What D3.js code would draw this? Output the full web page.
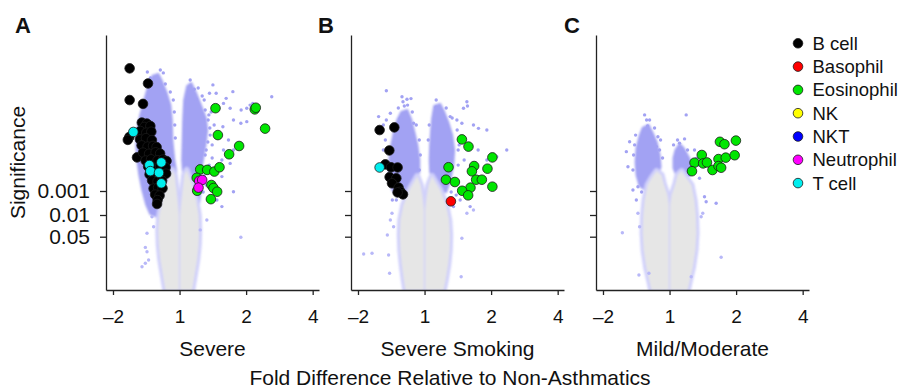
<!DOCTYPE html>
<html><head><meta charset="utf-8">
<script src="https://cdn.jsdelivr.net/npm/d3@7"></script>
<style>
body{margin:0;background:#fff;}
text{font-family:"Liberation Sans",Arial,Helvetica,sans-serif;fill:#111;}
</style>
</head><body>
<svg id="c" width="899" height="388"></svg>
<script>
// ---------- categories / labels ----------
const panelLetters = ["A","B","C"];
const panelTitles = ["Severe","Severe Smoking","Mild/Moderate"];
const foldTicks = [-2,1,2,4];            // fold difference tick labels
const pTicks = [0.001,0.01,0.05];        // significance tick labels
const cellTypes = ["B cell","Basophil","Eosinophil","NK","NKT","Neutrophil","T cell"];
const cellColors = ["#000000","#ff0000","#00e600","#ffff00","#0000ff","#ff00ff","#00eeee"];

// ---------- marker data: [log2 fold difference, -log10 p] ----------
const A_bcell = [[-0.75,8.11],[-0.474,7.48],[-0.75,6.79],[-0.549,6.63],[-0.567,5.85],[-0.492,5.81],[-0.529,5.67],[-0.439,5.71],[-0.754,5.25],[-0.777,5.13],[-0.639,4.40],
 [-0.589,5.50],[-0.499,5.43],[-0.424,5.47],[-0.595,5.15],[-0.505,5.20],[-0.415,5.12],
 [-0.570,4.90],[-0.480,4.85],[-0.398,4.88],[-0.345,4.83],[-0.548,4.60],[-0.458,4.55],[-0.360,4.61],[-0.292,4.56],
 [-0.510,4.27],[-0.428,4.32],[-0.330,4.28],[-0.248,4.31],[-0.196,4.25],[-0.472,4.02],[-0.382,3.97],[-0.292,4.03],[-0.210,3.98],
 [-0.450,3.69],[-0.368,3.73],[-0.270,3.68],[-0.202,3.72],[-0.412,3.44],[-0.330,3.40],[-0.262,3.43],
 [-0.390,3.10],[-0.322,3.14],[-0.256,3.11],[-0.367,2.85],[-0.300,2.81],[-0.330,2.62],[-0.338,2.46]];
const A_tcell = [[-0.694,5.46],[-0.454,4.08],[-0.274,4.19],[-0.439,3.83],[-0.309,3.76],[-0.274,3.32]];
const A_neutrophil = [[0.295,3.42],[0.340,3.46],[0.285,3.14]];
const A_eosinophil = [[0.540,6.45],[1.130,6.40],[1.145,6.47],[1.285,5.60],[0.576,5.33],[0.895,4.875],[0.745,4.53],[0.310,3.90],[0.415,3.88],[0.523,3.81],[0.600,3.99],[0.258,3.55],[0.265,3.01],[0.478,3.25],[0.510,3.125],[0.565,2.97],[0.471,2.66]];

const B_bcell = [[-0.675,5.54],[-0.454,5.65],[-0.529,4.69],[-0.589,4.11],[-0.504,3.99],[-0.405,3.98],[-0.525,3.58],[-0.424,3.53],[-0.489,3.32],[-0.390,3.14],[-0.364,2.97],[-0.324,2.86],[-0.405,2.94]];
const B_tcell = [[-0.675,3.98]];
const B_basophil = [[0.396,2.57]];
const B_eosinophil = [[0.561,5.15],[0.660,4.85],[1.019,4.40],[0.360,3.99],[0.745,4.04],[0.945,3.93],[0.711,3.82],[0.321,3.47],[0.456,3.375],[0.775,3.47],[0.861,3.47],[1.019,3.18],[0.690,3.14],[0.565,3.01],[0.655,2.82]];

const C_eosinophil = [[0.757,5.05],[0.825,4.95],[0.997,5.10],[0.484,4.5],[0.375,4.18],[0.505,4.15],[0.562,4.19],[0.735,4.33],[0.844,4.39],[0.978,4.49],[0.337,3.825],[0.645,3.875],[0.735,4.04],[0.775,3.97]];

// ---------- background gene cloud (outlines of dense regions + scattered genes) ----------
const A_grayLeft = [[-0.109,3.875],[-0.199,3.25],[-0.259,2.625],[-0.304,2.0],[-0.319,1.517],[-0.312,1.098],[-0.289,0.732],[-0.252,0.366],[-0.214,0],[-0.010,0],[-0.010,2.0],[-0.022,2.42],[-0.045,3.04],[-0.072,3.67]];
const A_grayRight = [[0.010,0],[0.010,2.0],[0.022,2.42],[0.045,3.04],[0.070,3.67],[0.108,3.875],[0.190,3.25],[0.250,2.625],[0.288,2.0],[0.295,1.517],[0.288,1.098],[0.265,0.732],[0.228,0.366],[0.190,0]];
const A_purpleLeft = [[-0.409,7.79],[-0.319,7.875],[-0.259,7.54],[-0.199,7.125],[-0.139,6.58],[-0.117,5.96],[-0.109,5.125],[-0.079,4.29],[-0.049,3.79],[-0.109,3.25],[-0.199,2.71],[-0.244,2.21],[-0.334,1.94],[-0.439,2.04],[-0.499,2.42],[-0.559,3.04],[-0.604,3.67],[-0.634,4.29],[-0.649,4.92],[-0.634,5.54],[-0.589,6.17],[-0.529,6.79],[-0.469,7.375]];
const A_purpleRight = [[0.115,7.375],[0.175,7.5],[0.240,7.125],[0.320,6.58],[0.395,6.04],[0.415,5.54],[0.390,4.92],[0.350,4.29],[0.310,3.67],[0.315,3.04],[0.295,2.5],[0.220,2.625],[0.130,3.25],[0.055,3.67],[0.040,4.29],[0.048,5.125],[0.055,5.96],[0.070,6.79]];
const A_scatter = [[0.220,7.24],[0.501,7.42],[0.550,7.07],[0.450,7.07],[0.801,7.14],[0.700,6.86],[0.660,6.65],[0.760,6.45],[0.925,6.375],[1.010,6.45],[1.060,6.58],[1.100,6.65],[1.385,6.93],[0.810,5.96],[0.921,5.82],[1.010,5.89],[0.651,5.68],[0.735,5.125],[0.660,4.71],[0.810,4.71],[0.636,4.29],[0.760,4.15],[0.636,3.60],[0.810,2.97],[0.561,2.625],[0.636,2.35],[0.385,6.375],[0.430,5.96],[0.460,5.33],[0.400,4.71],[0.490,4.375],[0.370,3.625],[0.921,1.286],[0.340,6.96],[0.250,6.83],
 [-0.514,1.04],[-0.564,0.569],[-0.465,0.732],[-0.514,0.652],[-0.489,0.935],[-0.390,1.623],[-0.414,1.945],[-0.489,1.41],[0.41,1.84],[0.31,1.52],
 [-0.484,7.96],[-0.289,8.04],[-0.244,7.92],
 [-0.214,7.46],[-0.139,7.125],[-0.094,6.79],[-0.079,6.29],[-0.072,5.75],[-0.064,5.21],[-0.439,7.71],
 [0.370,6.79],[0.440,6.17],[0.455,5.625],[0.425,5.04],[0.385,4.5],[0.345,3.96],[0.335,3.375],[0.355,2.96],[0.160,7.625],[0.280,7.29],
 [0.475,6.29],[0.520,5.75],[0.490,4.92],[0.445,4.08],[0.400,3.25]];

const B_grayLeft = [[-0.109,3.625],[-0.229,3.04],[-0.319,2.42],[-0.364,1.839],[-0.372,1.356],[-0.364,0.976],[-0.342,0.61],[-0.312,0.244],[-0.289,0],[-0.010,0],[-0.010,2.21],[-0.027,2.71],[-0.057,3.25]];
const B_grayRight = [[0.010,0],[0.010,2.21],[0.028,2.71],[0.058,3.25],[0.111,3.625],[0.235,3.04],[0.325,2.42],[0.370,1.839],[0.385,1.356],[0.378,0.976],[0.355,0.61],[0.318,0.244],[0.288,0]];
const B_purpleLeft = [[-0.349,6.29],[-0.259,6.375],[-0.199,5.96],[-0.154,5.46],[-0.109,4.92],[-0.079,4.29],[-0.079,3.79],[-0.154,3.375],[-0.274,2.96],[-0.394,2.79],[-0.484,3.04],[-0.529,3.54],[-0.529,4.29],[-0.499,4.92],[-0.454,5.54],[-0.409,5.96]];
const B_purpleRight = [[0.145,6.54],[0.235,6.625],[0.295,6.29],[0.355,5.875],[0.415,5.33],[0.445,4.71],[0.430,4.08],[0.385,3.46],[0.325,2.96],[0.235,3.04],[0.145,3.375],[0.085,3.79],[0.078,4.29],[0.085,4.92],[0.100,5.54],[0.115,6.04]];
const B_scatter = [[-0.574,7.18],[-0.339,6.93],[-0.264,6.82],[-0.204,6.85],[-0.324,6.72],[-0.255,6.58],[-0.690,6.10],[-0.514,6.24],[-0.364,6.03],[-0.165,5.82],[-0.589,5.125],[-0.619,5.75],
 [-0.915,0.879],[-0.789,0.896],[-0.540,0.854],[-0.525,0.408],[-0.489,2.07],[-0.514,1.839],[-0.424,2.625],[-0.465,1.623],[-0.559,1.356],
 [0.175,6.49],[0.585,6.45],[0.636,6.72],[0.645,6.54],[0.385,6.10],[0.486,5.96],[0.561,5.82],[0.735,5.75],[0.810,5.61],[0.936,5.54],[1.235,4.71],[1.085,4.43],[0.936,4.29],[0.685,2.35],[0.735,2.21],[0.636,2.07],[0.561,1.262],[0.550,0.325],[0.435,2.35],[0.535,5.125],[0.505,4.71],[0.595,4.29],[0.805,4.71],[0.475,2.83],[0.535,2.625],
 [-0.394,6.46],[-0.304,6.54],[-0.184,6.29],[-0.124,5.75],[-0.079,5.125],[-0.064,4.5],[-0.079,3.875],[-0.574,5.96],[-0.619,4.71],[-0.484,2.625],
 [0.175,6.79],[0.325,6.46],[0.415,6.04],[0.490,5.54],[0.520,4.92],[0.505,4.08],[0.460,3.46],[0.400,2.96],[0.070,5.75],[0.055,5.125]];

const C_grayLeft = [[-0.195,3.83],[-0.270,3.54],[-0.330,3.25],[-0.375,2.625],[-0.397,2.0],[-0.405,1.42],[-0.390,0.976],[-0.352,0.561],[-0.307,0.244],[-0.274,0],[-0.010,0],[-0.010,2.42],[-0.030,2.83],[-0.090,3.33],[-0.120,3.67]];
const C_grayRight = [[0.010,0],[0.010,2.42],[0.030,2.83],[0.090,3.33],[0.120,3.67],[0.180,3.83],[0.255,3.54],[0.330,3.25],[0.375,2.625],[0.397,2.0],[0.405,1.42],[0.390,0.976],[0.352,0.561],[0.307,0.244],[0.274,0]];
const C_purpleLeft = [[-0.405,5.625],[-0.315,5.75],[-0.255,5.42],[-0.195,5.04],[-0.150,4.5],[-0.135,4.0],[-0.180,3.625],[-0.270,3.375],[-0.360,3.04],[-0.450,3.21],[-0.495,3.67],[-0.510,4.21],[-0.495,4.79],[-0.450,5.29]];
const C_purpleRight = [[0.090,4.71],[0.150,4.96],[0.210,4.79],[0.285,4.42],[0.345,4.04],[0.315,3.71],[0.210,3.58],[0.105,3.625],[0.060,3.96],[0.060,4.375]];
const C_scatter = [[-0.375,6.17],[-0.345,5.96],[-0.330,5.71],[-0.600,5.05],[-0.649,4.64],[-0.525,4.92],[-0.625,4.01],[-0.550,3.875],[-0.199,4.85],[-0.150,4.71],[-0.175,5.26],[-0.550,3.04],[-0.499,2.625],[-0.475,2.07],[-0.709,1.43],[-0.450,1.623],[-0.460,0.366],[-0.310,0.408],[-0.475,3.18],
 [0.250,6.17],[0.150,4.99],[0.225,5.17],[0.400,4.36],[0.300,3.67],[0.450,3.53],[0.525,2.76],[0.475,1.945],[0.700,2.49],[0.775,0.798],[0.325,0.325],[0.499,2.07],[0.550,2.555],[0.375,4.71],[0.435,4.08],
 [-0.300,5.96],[-0.225,5.625],[-0.135,5.125],[-0.105,4.375],[-0.510,5.33],[-0.540,4.5],[-0.420,2.96],
 [0.120,5.125],[0.270,4.71],[0.360,4.29],[0.375,3.79],[0.060,4.92]];

// ---------- assemble ----------
const panels = [
 {letter:panelLetters[0], title:panelTitles[0], gray:[A_grayLeft,A_grayRight], purple:[A_purpleLeft,A_purpleRight], scatter:A_scatter,
  markers:{"B cell":A_bcell,"Eosinophil":A_eosinophil,"Neutrophil":A_neutrophil,"T cell":A_tcell}},
 {letter:panelLetters[1], title:panelTitles[1], gray:[B_grayLeft,B_grayRight], purple:[B_purpleLeft,B_purpleRight], scatter:B_scatter,
  markers:{"B cell":B_bcell,"Basophil":B_basophil,"Eosinophil":B_eosinophil,"T cell":B_tcell}},
 {letter:panelLetters[2], title:panelTitles[2], gray:[C_grayLeft,C_grayRight], purple:[C_purpleLeft,C_purpleRight], scatter:C_scatter,
  markers:{"Eosinophil":C_eosinophil}}
];

const svg = d3.select("#c");
const defs = svg.append("defs");
defs.append("filter").attr("id","soft").attr("x","-20%").attr("y","-20%").attr("width","140%").attr("height","140%")
  .append("feGaussianBlur").attr("stdDeviation",0.9);
const FONT = '"Liberation Sans",Arial,Helvetica,sans-serif';
const W = 213, panelX = [106,351,596], yTop = 35, yBot = 290;
const PURPLE = "#a2a2f3", LAV = "#d0d0fb", GRAY = "#e6e6e6", AXIS = "#222";
const toLog = f => Math.sign(f)*Math.log2(Math.abs(f));
const y = d3.scaleLinear()
  .domain([0, -Math.log10(0.05), -Math.log10(0.01), 9.5])
  .range([yBot, 236.7, 215, yTop]);

panels.forEach((p,i)=>{
  const x0 = panelX[i];
  const x = d3.scaleLinear().domain([-1.105, 2.095]).range([x0, x0+W]);
  const g = svg.append("g");
  const cid = "clip"+i;
  defs.append("clipPath").attr("id",cid).append("rect")
    .attr("x",x0).attr("y",yTop).attr("width",W).attr("height",yBot-yTop);
  const plot = g.append("g").attr("clip-path",`url(#${cid})`);
  const line = d3.line().x(d=>x(d[0])).y(d=>y(d[1])).curve(d3.curveLinearClosed);

  const cloud = plot.append("g").attr("filter","url(#soft)");
  p.purple.forEach(poly=>cloud.append("path").attr("d",line(poly)).attr("fill",PURPLE)
     .attr("stroke",PURPLE).attr("stroke-width",2).attr("stroke-linejoin","round"));
  p.gray.forEach(poly=>cloud.append("path").attr("d",line(poly)).attr("fill",LAV)
     .attr("stroke",LAV).attr("stroke-width",6).attr("stroke-linejoin","round"));
  p.gray.forEach(poly=>cloud.append("path").attr("d",line(poly)).attr("fill",GRAY));

  plot.selectAll("circle.bg").data(p.scatter).join("circle").attr("class","bg")
    .attr("cx",d=>x(d[0])).attr("cy",d=>y(d[1])).attr("r",1.7)
    .attr("fill",d=>d[1]<2.3?"#b8b8f8":PURPLE);

  cellTypes.forEach((ct,k)=>{
    const pts = p.markers[ct]; if(!pts) return;
    g.selectAll(null).data(pts).join("circle")
      .attr("cx",d=>x(d[0])).attr("cy",d=>y(d[1])).attr("r",4.8)
      .attr("fill",cellColors[k]).attr("stroke","#1a1a1a").attr("stroke-width",0.8);
  });

  // x axis
  const xa = g.append("g").attr("transform",`translate(0,${yBot})`)
    .call(d3.axisBottom(x).tickValues(foldTicks.map(toLog))
      .tickFormat((d,j)=> foldTicks[j]<0 ? "\u2013"+Math.abs(foldTicks[j]) : String(foldTicks[j]))
      .tickSize(5).tickSizeOuter(0).tickPadding(15));
  xa.selectAll("text").attr("font-size",19).attr("font-family",FONT).attr("fill","#111");
  // y axis
  const ya = g.append("g").attr("transform",`translate(${x0},0)`)
    .call(d3.axisLeft(y).tickValues(pTicks.map(v=>-Math.log10(v)))
      .tickFormat((d,j)=> i===0 ? String(pTicks[j]) : "")
      .tickSize(6).tickSizeOuter(0).tickPadding(10));
  ya.selectAll("text").attr("font-size",21).attr("font-family",FONT).attr("fill","#111");
  [xa,ya].forEach(a=>{
    a.select(".domain").attr("stroke",AXIS).attr("stroke-width",1.3);
    a.selectAll(".tick line").attr("stroke",AXIS).attr("stroke-width",1.3);
  });

  g.append("text").attr("x",x0+W/2).attr("y",356).attr("text-anchor","middle")
    .attr("font-size",21).text(p.title);
  g.append("text").attr("x",[15,318,564][i]).attr("y",33).attr("font-size",22)
    .attr("font-weight","bold").text(p.letter);
});

svg.append("text").attr("transform","translate(25,162.5) rotate(-90)")
  .attr("text-anchor","middle").attr("font-size",21).text("Significance");
svg.append("text").attr("x",450).attr("y",385).attr("text-anchor","middle")
  .attr("font-size",21).text("Fold Difference Relative to Non-Asthmatics");

// legend
const leg = svg.append("g");
cellTypes.forEach((ct,k)=>{
  const cy = 43.3 + k*23.3;
  leg.append("circle").attr("cx",798).attr("cy",cy).attr("r",4.8)
    .attr("fill",cellColors[k]).attr("stroke","#1a1a1a").attr("stroke-width",0.8);
  leg.append("text").attr("x",812.5).attr("y",cy).attr("dy","0.35em")
    .attr("font-size",18.5).text(ct);
});
</script>
</body></html>
